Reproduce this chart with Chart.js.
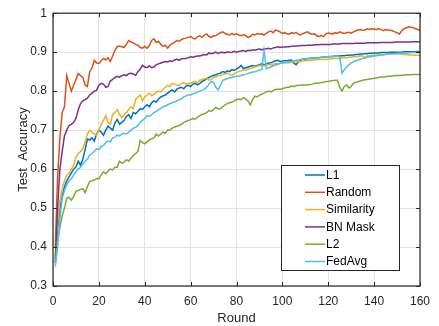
<!DOCTYPE html>
<html>
<head>
<meta charset="utf-8">
<script src="https://cdn.jsdelivr.net/npm/chart.js@4.4.1/dist/chart.umd.min.js"></script>
<style>
  body { margin: 0; background: #fff; }
  canvas { display: block; }
</style>
</head>
<body>
<canvas id="accChart" width="439" height="326"></canvas>
<script>
  // rounds 1..160
  const rounds = Array.from({length: 160}, (_, i) => i + 1);
  const xTicks = [0, 20, 40, 60, 80, 100, 120, 140, 160];
  const yTicks = [0.3, 0.4, 0.5, 0.6, 0.7, 0.8, 0.9, 1];

  const l1 = [
    0.370,0.450,0.500,0.530,0.555,0.570,0.580,0.590,0.600,0.606,
    0.620,0.610,0.626,0.650,0.677,0.675,0.680,0.672,0.690,0.700,
    0.695,0.687,0.700,0.710,0.705,0.700,0.718,0.727,0.715,0.720,
    0.725,0.735,0.740,0.730,0.745,0.742,0.748,0.755,0.753,0.760,
    0.765,0.760,0.770,0.775,0.772,0.780,0.785,0.788,0.790,0.795,
    0.800,0.803,0.798,0.805,0.808,0.810,0.806,0.813,0.815,0.812,
    0.818,0.820,0.816,0.820,0.825,0.828,0.832,0.835,0.838,0.840,
    0.842,0.845,0.846,0.850,0.848,0.852,0.850,0.855,0.853,0.857,
    0.860,0.866,0.858,0.860,0.862,0.864,0.866,0.864,0.866,0.868,
    0.870,0.868,0.870,0.872,0.873,0.875,0.878,0.879,0.876,0.877,
    0.878,0.878,0.879,0.880,0.872,0.868,0.876,0.880,0.882,0.882,
    0.884,0.884,0.885,0.885,0.886,0.886,0.887,0.887,0.888,0.888,
    0.889,0.889,0.890,0.890,0.890,0.891,0.891,0.892,0.892,0.893,
    0.893,0.894,0.894,0.895,0.895,0.896,0.896,0.897,0.897,0.898,
    0.898,0.898,0.899,0.899,0.899,0.899,0.900,0.900,0.900,0.900,
    0.900,0.900,0.901,0.901,0.901,0.901,0.901,0.901,0.902,0.902
  ];
  const random = [
    0.400,0.580,0.680,0.745,0.760,0.840,0.820,0.800,0.815,0.830,
    0.845,0.840,0.836,0.816,0.812,0.850,0.860,0.879,0.872,0.871,
    0.878,0.884,0.880,0.886,0.876,0.890,0.905,0.914,0.916,0.914,
    0.912,0.920,0.930,0.926,0.924,0.920,0.918,0.912,0.910,0.915,
    0.910,0.917,0.930,0.934,0.925,0.928,0.920,0.915,0.918,0.910,
    0.918,0.922,0.926,0.930,0.928,0.932,0.935,0.936,0.938,0.940,
    0.936,0.934,0.940,0.942,0.938,0.944,0.947,0.940,0.938,0.942,
    0.942,0.946,0.950,0.952,0.948,0.946,0.944,0.948,0.945,0.947,
    0.944,0.942,0.945,0.943,0.938,0.940,0.946,0.944,0.948,0.946,
    0.947,0.944,0.948,0.952,0.954,0.950,0.957,0.955,0.952,0.948,
    0.950,0.947,0.946,0.950,0.948,0.951,0.946,0.944,0.948,0.950,
    0.952,0.948,0.946,0.947,0.942,0.940,0.943,0.940,0.947,0.949,
    0.948,0.946,0.950,0.948,0.952,0.950,0.948,0.950,0.951,0.949,
    0.952,0.955,0.957,0.958,0.956,0.957,0.960,0.958,0.960,0.959,
    0.958,0.960,0.958,0.955,0.958,0.957,0.956,0.955,0.952,0.950,
    0.946,0.955,0.960,0.962,0.965,0.964,0.963,0.960,0.958,0.956
  ];
  const similarity = [
    0.380,0.460,0.520,0.550,0.570,0.585,0.590,0.600,0.610,0.630,
    0.640,0.645,0.652,0.670,0.690,0.700,0.694,0.690,0.687,0.700,
    0.715,0.725,0.737,0.720,0.715,0.740,0.745,0.753,0.740,0.732,
    0.740,0.745,0.753,0.760,0.755,0.778,0.785,0.790,0.775,0.785,
    0.790,0.795,0.788,0.792,0.796,0.800,0.798,0.805,0.810,0.815,
    0.812,0.820,0.818,0.815,0.815,0.820,0.822,0.818,0.820,0.820,
    0.823,0.825,0.822,0.828,0.830,0.832,0.833,0.828,0.830,0.835,
    0.837,0.840,0.840,0.842,0.845,0.846,0.843,0.840,0.845,0.848,
    0.850,0.852,0.855,0.853,0.857,0.858,0.860,0.862,0.864,0.866,
    0.866,0.865,0.867,0.868,0.868,0.869,0.871,0.870,0.871,0.872,
    0.872,0.873,0.873,0.874,0.875,0.875,0.876,0.876,0.877,0.878,
    0.879,0.879,0.880,0.880,0.881,0.881,0.881,0.882,0.881,0.882,
    0.883,0.883,0.884,0.884,0.885,0.885,0.886,0.886,0.887,0.887,
    0.888,0.888,0.889,0.891,0.890,0.886,0.890,0.891,0.892,0.892,
    0.893,0.893,0.894,0.894,0.895,0.895,0.896,0.896,0.896,0.896,
    0.895,0.895,0.894,0.894,0.893,0.893,0.893,0.892,0.892,0.891
  ];
  const bnMask = [
    0.360,0.500,0.600,0.645,0.685,0.700,0.712,0.715,0.720,0.730,
    0.752,0.768,0.775,0.778,0.782,0.790,0.795,0.800,0.802,0.815,
    0.820,0.818,0.810,0.812,0.826,0.830,0.835,0.838,0.836,0.840,
    0.842,0.840,0.845,0.846,0.844,0.840,0.850,0.856,0.866,0.862,
    0.860,0.865,0.860,0.862,0.868,0.870,0.872,0.874,0.876,0.875,
    0.878,0.876,0.880,0.882,0.879,0.883,0.884,0.884,0.886,0.888,
    0.887,0.889,0.890,0.890,0.892,0.894,0.893,0.898,0.896,0.898,
    0.900,0.897,0.899,0.900,0.898,0.901,0.899,0.900,0.902,0.900,
    0.902,0.903,0.904,0.902,0.905,0.904,0.906,0.905,0.907,0.908,
    0.906,0.908,0.909,0.910,0.908,0.911,0.912,0.914,0.912,0.913,
    0.913,0.914,0.914,0.915,0.915,0.916,0.916,0.917,0.917,0.917,
    0.918,0.918,0.918,0.919,0.919,0.919,0.920,0.920,0.920,0.920,
    0.920,0.921,0.921,0.921,0.921,0.922,0.922,0.922,0.922,0.922,
    0.922,0.923,0.923,0.923,0.923,0.923,0.924,0.924,0.924,0.924,
    0.924,0.924,0.925,0.925,0.925,0.925,0.925,0.925,0.926,0.926,
    0.926,0.926,0.926,0.926,0.926,0.926,0.927,0.927,0.927,0.927
  ];
  const l2 = [
    0.360,0.420,0.450,0.480,0.500,0.525,0.528,0.520,0.530,0.543,
    0.545,0.548,0.550,0.540,0.555,0.568,0.570,0.572,0.576,0.575,
    0.585,0.593,0.588,0.595,0.600,0.598,0.605,0.605,0.620,0.615,
    0.618,0.624,0.620,0.628,0.635,0.640,0.645,0.673,0.668,0.665,
    0.670,0.675,0.678,0.680,0.690,0.685,0.690,0.695,0.692,0.700,
    0.700,0.705,0.708,0.710,0.712,0.715,0.720,0.722,0.725,0.727,
    0.730,0.728,0.733,0.737,0.740,0.742,0.745,0.750,0.748,0.753,
    0.758,0.755,0.755,0.760,0.765,0.768,0.770,0.772,0.775,0.778,
    0.780,0.778,0.783,0.780,0.775,0.765,0.778,0.787,0.785,0.790,
    0.792,0.795,0.798,0.800,0.798,0.802,0.804,0.805,0.805,0.806,
    0.808,0.810,0.810,0.813,0.812,0.814,0.815,0.815,0.816,0.816,
    0.816,0.817,0.818,0.820,0.820,0.821,0.822,0.823,0.825,0.825,
    0.826,0.827,0.828,0.828,0.810,0.800,0.812,0.816,0.808,0.812,
    0.820,0.823,0.824,0.826,0.828,0.829,0.830,0.831,0.832,0.833,
    0.834,0.835,0.836,0.836,0.837,0.838,0.838,0.839,0.840,0.840,
    0.840,0.841,0.841,0.842,0.842,0.842,0.843,0.843,0.843,0.843
  ];
  const fedAvg = [
    0.350,0.400,0.470,0.525,0.545,0.560,0.570,0.575,0.585,0.593,
    0.600,0.605,0.614,0.620,0.625,0.636,0.640,0.645,0.652,0.650,
    0.658,0.660,0.668,0.672,0.670,0.680,0.682,0.687,0.685,0.690,
    0.692,0.690,0.695,0.700,0.705,0.707,0.712,0.720,0.725,0.730,
    0.737,0.735,0.740,0.745,0.748,0.753,0.755,0.760,0.762,0.765,
    0.768,0.770,0.772,0.775,0.778,0.780,0.785,0.788,0.790,0.790,
    0.793,0.795,0.797,0.800,0.802,0.805,0.810,0.818,0.825,0.822,
    0.810,0.803,0.815,0.828,0.830,0.832,0.834,0.835,0.837,0.838,
    0.838,0.840,0.842,0.843,0.845,0.847,0.849,0.850,0.852,0.854,
    0.855,0.905,0.857,0.860,0.862,0.865,0.867,0.869,0.871,0.873,
    0.874,0.875,0.876,0.877,0.878,0.879,0.880,0.881,0.882,0.883,
    0.884,0.884,0.885,0.885,0.886,0.886,0.887,0.887,0.888,0.888,
    0.889,0.889,0.889,0.890,0.888,0.846,0.855,0.862,0.868,0.872,
    0.875,0.878,0.880,0.882,0.884,0.885,0.887,0.888,0.889,0.890,
    0.891,0.892,0.893,0.893,0.894,0.895,0.895,0.896,0.896,0.897,
    0.897,0.897,0.898,0.898,0.898,0.899,0.899,0.899,0.899,0.899
  ];

  const seriesNames = ['L1', 'Random', 'Similarity', 'BN Mask', 'L2', 'FedAvg'];
  const seriesData = [l1, random, similarity, bnMask, l2, fedAvg];
  const seriesColors = ['#0072BD', '#D95319', '#EDB120', '#7E2F8E', '#77AC30', '#4DBEEE'];

  const FONT = '"Liberation Sans", Arial, Helvetica, sans-serif';
  const AXIS = '#262626';

  // matlab style box, inward ticks and legend
  const matlabBox = {
    id: 'matlabBox',
    afterDraw(chart) {
      const {ctx, chartArea: a, scales: {x, y}} = chart;
      ctx.save();
      ctx.strokeStyle = AXIS;
      ctx.lineWidth = 1.2;
      ctx.strokeRect(a.left, a.top, a.width, a.height);
      ctx.lineWidth = 1;
      ctx.beginPath();
      xTicks.forEach(v => {
        const px = Math.round(x.getPixelForValue(v)) + 0.5;
        ctx.moveTo(px, a.bottom); ctx.lineTo(px, a.bottom - 4);
        ctx.moveTo(px, a.top); ctx.lineTo(px, a.top + 4);
      });
      yTicks.forEach(v => {
        const py = Math.round(y.getPixelForValue(v)) + 0.5;
        ctx.moveTo(a.left, py); ctx.lineTo(a.left + 4, py);
        ctx.moveTo(a.right, py); ctx.lineTo(a.right - 4, py);
      });
      ctx.stroke();

      // legend
      const lx = 281, ly = 165, lw = 118, lh = 105;
      ctx.fillStyle = '#fff';
      ctx.fillRect(lx, ly, lw, lh);
      ctx.strokeStyle = AXIS;
      ctx.lineWidth = 1;
      ctx.strokeRect(lx + 0.5, ly + 0.5, lw, lh);
      ctx.font = '12px ' + FONT;
      ctx.textBaseline = 'middle';
      chart.data.datasets.forEach((ds, i) => {
        const ry = 175 + i * 17.3;
        ctx.strokeStyle = ds.borderColor;
        ctx.lineWidth = 1.5;
        ctx.beginPath();
        ctx.moveTo(305, ry); ctx.lineTo(325, ry);
        ctx.stroke();
        ctx.fillStyle = '#000';
        ctx.fillText(ds.label, 326, ry + 0.5);
      });
      ctx.restore();
    }
  };

  new Chart(document.getElementById('accChart'), {
    type: 'line',
    data: {
      labels: rounds,
      datasets: seriesData.map((d, i) => ({
        label: seriesNames[i],
        data: d.map((v, j) => ({x: rounds[j], y: v})),
        borderColor: seriesColors[i],
        backgroundColor: seriesColors[i],
        borderWidth: 1.5,
        pointRadius: 0,
        tension: 0,
        order: seriesData.length - i
      }))
    },
    options: {
      responsive: false,
      animation: false,
      layout: { padding: { top: 9, right: 19, left: 0, bottom: 0 } },
      plugins: { legend: { display: false }, tooltip: { enabled: false } },
      scales: {
        x: {
          type: 'linear',
          min: 0, max: 160,
          afterBuildTicks: s => { s.ticks = xTicks.map(v => ({value: v})); },
          afterFit: s => { s.height = 40; },
          grid: { color: '#e3e3e3', drawTicks: false },
          border: { display: false },
          ticks: { color: AXIS, font: { family: FONT, size: 12 }, padding: 8, maxRotation: 0 },
          title: { display: true, text: 'Round', color: AXIS, font: { family: FONT, size: 13 }, padding: { top: 0, bottom: 0 } }
        },
        y: {
          min: 0.3, max: 1,
          afterBuildTicks: s => { s.ticks = yTicks.map(v => ({value: v})); },
          afterFit: s => { s.width = 53; },
          grid: { color: '#e3e3e3', drawTicks: false },
          border: { display: false },
          ticks: {
            color: AXIS, font: { family: FONT, size: 12 }, padding: 6,
            callback: v => String(Number(v.toFixed(1)))
          },
          title: { display: true, text: 'Test  Accuracy', color: AXIS, font: { family: FONT, size: 13 }, padding: { top: 16, bottom: 0 } }
        }
      }
    },
    plugins: [matlabBox]
  });
</script>
</body>
</html>
